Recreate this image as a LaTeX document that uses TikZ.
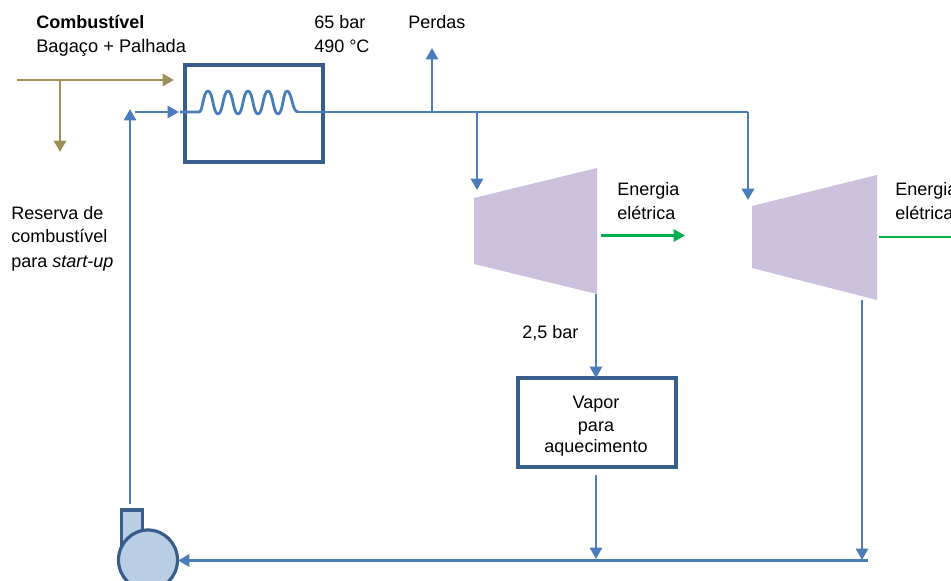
\documentclass[tikz,border=0pt]{standalone}
\usepackage{fontspec}
\setmainfont{Liberation Sans}
\usetikzlibrary{arrows.meta}
\definecolor{flow}{HTML}{4A7EBB}
\definecolor{edge}{HTML}{385D8A}
\definecolor{fuel}{HTML}{9C9259}
\definecolor{turb}{HTML}{CCC1DD}
\definecolor{power}{HTML}{00B050}
\definecolor{pumpfill}{HTML}{B9CDE5}
\tikzset{
  x=0.75pt,y=-0.75pt,
  flowline/.style={draw=flow,line width=2.1pt},
  flowarrow/.style={flowline,-{Triangle[length=8.5pt,width=9pt]}},
  fuelarrow/.style={draw=fuel,line width=2.1pt,-{Triangle[length=8.5pt,width=9pt]}},
  powerarrow/.style={draw=power,line width=2.1pt,-{Triangle[length=8.5pt,width=9pt]}},
  boxnode/.style={draw=edge,line width=2.7pt,inner sep=0pt,outer sep=0pt,anchor=north west,align=center},
  label/.style={anchor=base west,inner sep=0pt,font=\fontsize{13.5}{16}\selectfont},
  turbine/.style={fill=turb,draw=none},
  pumppart/.style={draw=edge,line width=2.4pt,fill=pumpfill},
}
\begin{document}
\begin{tikzpicture}
\useasboundingbox (0,0) rectangle (951,581);
\clip (0,0) rectangle (951,581);
% text
\node[label] (tfuel) at (36,28.5) {\textbf{Combustível}};
\node[label] (tbag) at (36,53) {\fontsize{13.7}{16}\selectfont Bagaço + Palhada};
\node[label] (tbar) at (314,28.5) {65 bar};
\node[label] (ttemp) at (314,53) {490 °C};
\node[label] (tloss) at (408,28.5) {Perdas};
\node[label] (tres1) at (11,220) {Reserva de};
\node[label] (tres2) at (11,243) {combustível};
\node[label] (tres3) at (11,268) {para \textit{start-up}};
\node[label] (te1a) at (617,196) {Energia};
\node[label] (te1b) at (617,220) {elétrica};
\node[label] (te2a) at (895,196) {Energia};
\node[label] (te2b) at (895,220) {elétrica};
\node[label] (tlow) at (522,339) {2,5 bar};
% turbines
\fill[turbine] (474,198) -- (597,168) -- (597,294) -- (474,264) -- cycle;
\fill[turbine] (752,206) -- (877,175) -- (877,300) -- (752,268) -- cycle;
% coordinates
\coordinate (fs) at (17,80);
\coordinate (fe) at (174,80);
\coordinate (fj) at (60,80);
\coordinate (fd) at (60,152);
\coordinate (ci) at (180,112);
\coordinate (cs) at (199,112);
\coordinate (ce) at (298,112);
\coordinate (jl) at (432,112);
\coordinate (jt) at (477,112);
\coordinate (jc) at (748,112);
\coordinate (lossend) at (432,48);
\coordinate (t1in) at (477,190);
\coordinate (t2in) at (748,200);
\coordinate (t1out) at (596,294);
\coordinate (t2out) at (862,300);
\coordinate (retr) at (868,560.5);
\coordinate (ret1) at (596,559);
\coordinate (ret2) at (862,560);
\coordinate (pumpin) at (178,560.5);
\coordinate (pumpout) at (130,504);
\coordinate (upend) at (130,109);
\coordinate (feeds) at (135,112);
\coordinate (feede) at (179,112);
\coordinate (g1s) at (601,235.5);
\coordinate (g1e) at (685,235.5);
\coordinate (g2s) at (879,237);
\coordinate (g2e) at (951,237);
% boxes
\node[boxnode,minimum width=103.5pt,minimum height=72.75pt] (boiler) at (185,65) {};
\node[boxnode,minimum width=118.5pt,minimum height=66.75pt] (vapor) at (518,378) {};
\node[label,anchor=base] (v1) at (596,408.5) {Vapor};
\node[label,anchor=base] (v2) at (596,431.5) {para};
\node[label,anchor=base] (v3) at (596,452.5) {aquecimento};
% pump
\draw[pumppart] (121.5,550) -- (121.5,510) -- (142.5,510) -- (142.5,550) -- cycle;
\draw[pumppart] (148,560) ellipse [x radius=29.5,y radius=30];
\node[inner sep=0pt] (pump) at (148,560) {};
% fuel
\draw[fuelarrow] (fs) -- (fe);
\draw[fuelarrow] (fj) -- (fd);
% coil and steam line
\draw[flowline,line join=round] (ci) -- (cs)
  .. controls (203,112) and (203,91) .. (208,91)
  .. controls (213,91) and (213,114) .. (218,114)
  .. controls (223,114) and (223,91) .. (228,91)
  .. controls (233,91) and (233,114) .. (238,114)
  .. controls (243,114) and (243,91) .. (248,91)
  .. controls (253,91) and (253,114) .. (258,114)
  .. controls (263,114) and (263,91) .. (268,91)
  .. controls (273,91) and (273,114) .. (278,114)
  .. controls (283,114) and (283,91) .. (287,91)
  .. controls (292,91) and (292,112) .. (298,112) -- (ce);
\draw[flowline] (ce) -- (jc);
\draw[flowarrow] (jc) -- (t2in);
\draw[flowarrow] (jt) -- (t1in);
\draw[flowarrow] (jl) -- (lossend);
\draw[flowarrow] (t1out) -- (vapor.north -| t1out);
\draw[flowarrow] ([yshift=-6pt]vapor.south -| ret1) -- (ret1);
\draw[flowarrow] (t2out) -- (ret2);
\draw[flowarrow] (retr) -- (pumpin);
\draw[flowarrow] (pumpout) -- (upend);
\draw[flowarrow] (feeds) -- (feede);
\draw[powerarrow] (g1s) -- (g1e);
\draw[draw=power,line width=2.1pt] (g2s) -- (g2e);
\end{tikzpicture}
\end{document}
